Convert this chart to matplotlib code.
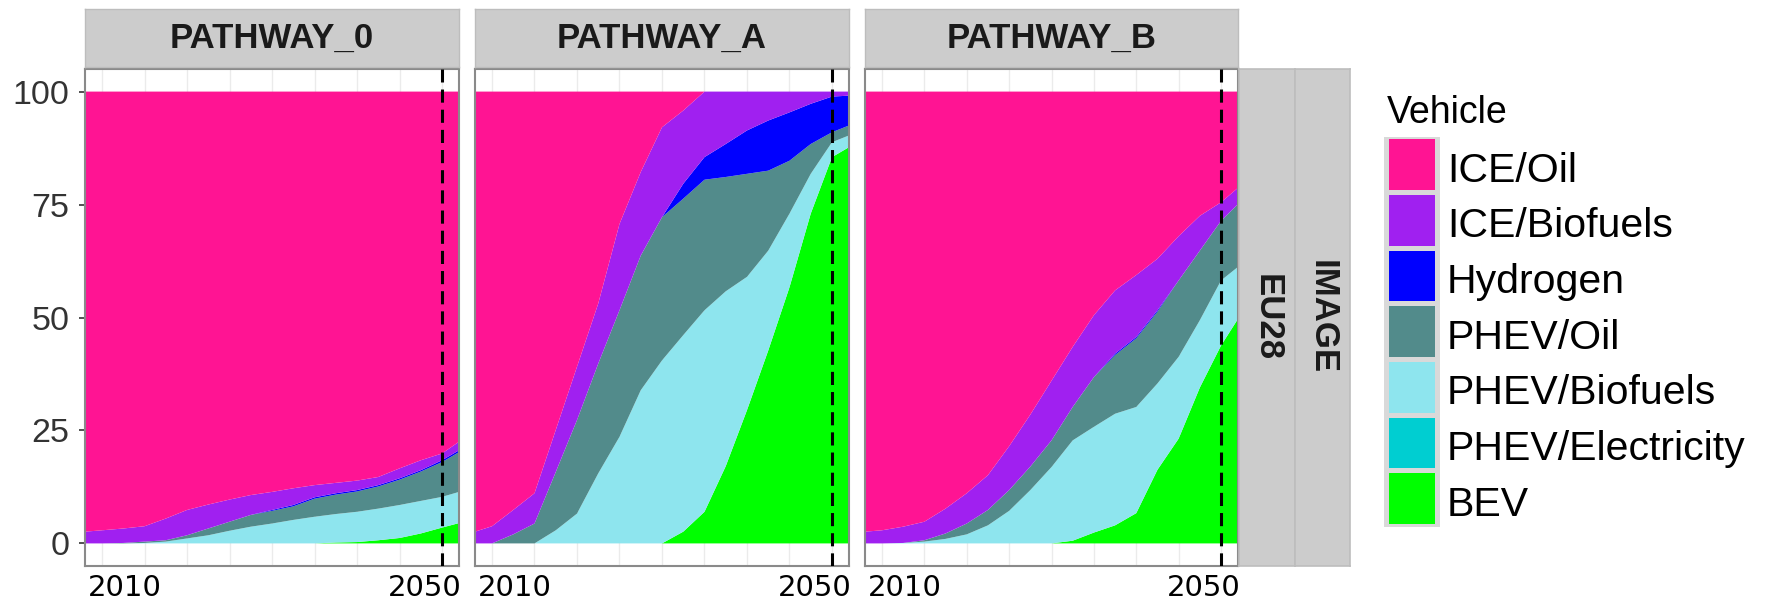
import matplotlib
matplotlib.use("Agg")
import matplotlib.pyplot as plt
from matplotlib.patches import Rectangle

# ---------------- data ----------------
years = [2008, 2010, 2012.5, 2015, 2017.5, 2020, 2022.5, 2025, 2027.5, 2030,
         2032.5, 2035, 2037.5, 2040, 2042.5, 2045, 2047.5, 2050, 2052]

vehicles = ["ICE/Oil", "ICE/Biofuels", "Hydrogen", "PHEV/Oil",
            "PHEV/Biofuels", "PHEV/Electricity", "BEV"]
vehicle_colors = ["#FF1493", "#A020F0", "#0000FF", "#528B8B",
                  "#8EE5EE", "#00CED1", "#00FF00"]

pathways = ["PATHWAY_0", "PATHWAY_A", "PATHWAY_B"]
row_labels = ["EU28", "IMAGE"]

# PATHWAY_0 (share, %)
p0_ice_oil = [97.4, 97.1, 96.7, 96.2, 94.5, 92.6, 91.4, 90.3, 89.3, 88.6, 87.8, 87.1, 86.6, 86.1, 85.3, 83.4, 81.6, 80.1, 77.5]
p0_ice_bio = [2.6, 2.9, 3.2, 3.4, 4.8, 5.6, 5.3, 4.9, 4.4, 4.0, 3.7, 2.7, 2.3, 2.1, 1.8, 2.2, 2.2, 1.5, 1.9]
p0_hydrogen = [0, 0, 0, 0, 0, 0, 0, 0, 0, 0.2, 0.3, 0.3, 0.3, 0.3, 0.3, 0.3, 0.3, 0.4, 0.4]
p0_phev_oil = [0, 0, 0.1, 0.3, 0.3, 0.7, 1.5, 2.0, 2.6, 2.8, 3.0, 4.0, 4.3, 4.5, 4.9, 5.6, 6.5, 7.7, 8.8]
p0_phev_bio = [0, 0, 0, 0.1, 0.4, 1.1, 1.8, 2.8, 3.7, 4.4, 5.2, 5.9, 6.3, 6.7, 7.0, 7.3, 7.2, 6.8, 6.9]
p0_phev_ele = [0] * 19
p0_bev = [0, 0, 0, 0, 0, 0, 0, 0, 0, 0, 0, 0, 0.2, 0.3, 0.7, 1.2, 2.2, 3.5, 4.5]

# PATHWAY_A
pa_ice_oil = [97.4, 96.2, 92.6, 88.9, 74.9, 60.9, 46.9, 29.3, 17.8, 7.9, 4.2, 0, 0, 0, 0, 0, 0, 0, 0]
pa_ice_bio = [2.6, 3.8, 5.4, 6.7, 9.3, 11.8, 13.3, 19.1, 18.5, 19.9, 16.2, 14.5, 11.6, 8.6, 6.4, 4.6, 2.7, 1.1, 0.9]
pa_hydrogen = [0, 0, 0, 0, 0, 0, 0, 0, 0, 0, 3.3, 5.0, 7.3, 9.6, 11.1, 10.7, 8.9, 7.9, 6.6]
pa_phev_oil = [0, 0, 2.0, 4.4, 12.9, 20.7, 24.3, 28.0, 29.8, 31.7, 30.2, 28.9, 25.3, 22.8, 17.7, 11.7, 6.6, 2.2, 2.2]
pa_phev_bio = [0, 0, 0, 0, 2.9, 6.6, 15.5, 23.6, 33.9, 40.5, 43.5, 44.6, 38.7, 29.5, 22.1, 16.3, 8.8, 3.3, 2.6]
pa_phev_ele = [0] * 19
pa_bev = [0, 0, 0, 0, 0, 0, 0, 0, 0, 0, 2.6, 7.0, 17.1, 29.5, 42.7, 56.7, 73.0, 85.5, 87.7]

# PATHWAY_B
pb_ice_oil = [97.4, 97.1, 96.3, 95.2, 92.3, 88.9, 84.9, 78.5, 71.5, 64.0, 56.5, 49.5, 44.0, 40.6, 37.0, 32.0, 27.5, 24.5, 21.3]
pb_ice_bio = [2.6, 2.9, 3.6, 4.1, 5.5, 6.7, 7.7, 9.7, 11.5, 13.2, 13.3, 13.7, 14.0, 13.7, 11.4, 9.8, 7.7, 4.1, 3.6]
pb_hydrogen = [0, 0, 0, 0, 0, 0, 0, 0, 0, 0, 0, 0, 0.3, 0.3, 0.3, 0, 0, 0, 0]
pb_phev_oil = [0, 0, 0, 0.3, 1.2, 2.4, 3.4, 4.6, 5.2, 5.9, 7.4, 11.0, 13.0, 15.2, 15.9, 16.9, 15.4, 13.2, 13.9]
pb_phev_bio = [0, 0, 0.1, 0.4, 1.0, 2.0, 4.0, 7.2, 11.8, 16.9, 22.2, 23.4, 24.7, 23.5, 19.1, 18.1, 14.9, 14.4, 11.5]
pb_phev_ele = [0] * 19
pb_bev = [0, 0, 0, 0, 0, 0, 0, 0, 0, 0, 0.6, 2.4, 4.0, 6.7, 16.3, 23.2, 34.5, 43.8, 49.7]

y_ticks = [0, 25, 50, 75, 100]
x_tick_labels = ["2010", "2050"]
ref_year = 2050
grid_years = [2010, 2015, 2020, 2025, 2030, 2035, 2040, 2045, 2050]

panel_series = [
    [p0_ice_oil, p0_ice_bio, p0_hydrogen, p0_phev_oil, p0_phev_bio, p0_phev_ele, p0_bev],
    [pa_ice_oil, pa_ice_bio, pa_hydrogen, pa_phev_oil, pa_phev_bio, pa_phev_ele, pa_bev],
    [pb_ice_oil, pb_ice_bio, pb_hydrogen, pb_phev_oil, pb_phev_bio, pb_phev_ele, pb_bev],
]

# ---------------- layout ----------------
W, H = 1775, 603
fig = plt.figure(figsize=(W / 100, H / 100), dpi=100)


def fx(px):
    return px / W


def fyb(py):
    return 1 - py / H


panel_x = [(85, 459), (475, 849), (865, 1238)]
ptop, pbot = 69, 566
strip_top, strip_bot = 9, 67
strip_col = "#CCCCCC"
strip_edge = "#BDBDBD"
sans = ["Liberation Sans", "DejaVu Sans"]

for i, (x0, x1) in enumerate(panel_x):
    ax = fig.add_axes([fx(x0), fyb(pbot), fx(x1 - x0), (pbot - ptop) / H])
    series = panel_series[i]
    # stack bottom -> top : reverse of legend order
    ax.stackplot(years, *series[::-1], colors=vehicle_colors[::-1],
                 linewidth=0, zorder=2)
    ax.set_xlim(2008, 2052)
    ax.set_ylim(-5, 105)
    ax.set_axisbelow(True)
    ax.set_xticks(grid_years, minor=True)
    ax.grid(True, which="minor", axis="x", color="#EBEBEB", linewidth=1.0, zorder=0)
    ax.axvline(ref_year, color="black", linestyle=(0, (4.3, 2.3)), linewidth=2.2, zorder=3)
    ax.set_xticks([2012.7, 2048.0])
    ax.set_xticklabels(x_tick_labels, fontsize=21, family="DejaVu Sans", color="black")
    ax.tick_params(axis="x", which="both", length=0, pad=6)
    if i == 0:
        ax.set_yticks(y_ticks)
        ax.set_yticklabels([str(v) for v in y_ticks], fontsize=24.5, family=sans,
                           color="#333333")
        ax.tick_params(axis="y", length=4.3, width=1.2, color="#333333", pad=7)
    else:
        ax.set_yticks([])
    for sp in ax.spines.values():
        sp.set_color("#8A8A8A")
        sp.set_linewidth(1.5)

    sax = fig.add_axes([fx(x0), fyb(strip_bot), fx(x1 - x0), (strip_bot - strip_top) / H])
    sax.set_facecolor(strip_col)
    sax.set_xticks([])
    sax.set_yticks([])
    for sp in sax.spines.values():
        sp.set_color(strip_edge)
        sp.set_linewidth(1)
    sax.text(0.5, 0.5, pathways[i], ha="center", va="center", fontsize=25,
             fontweight="bold", family=sans, color="#1A1A1A", transform=sax.transAxes)

# right-hand facet strips
rs_x = [(1239, 1295), (1295, 1350)]
for j, (x0, x1) in enumerate(rs_x):
    rax = fig.add_axes([fx(x0), fyb(pbot), fx(x1 - x0), (pbot - ptop) / H])
    rax.set_facecolor(strip_col)
    rax.set_xticks([])
    rax.set_yticks([])
    for sp in rax.spines.values():
        sp.set_color(strip_edge)
        sp.set_linewidth(1.2)
    rax.text(0.5, 0.5, row_labels[j], ha="center", va="center", rotation=-90,
             fontsize=25, fontweight="bold", family=sans, color="#1A1A1A",
             transform=rax.transAxes)

# ---------------- legend ----------------
fig.text(fx(1387), fyb(123), "Vehicle", fontsize=27, family=sans, color="black",
         ha="left", va="baseline")
key_top0 = 136.7
pitch = 55.7
for k, (lab, col) in enumerate(zip(vehicles, vehicle_colors)):
    top = key_top0 + k * pitch
    fig.patches.append(Rectangle((fx(1384), fyb(top + pitch)), fx(56), pitch / H,
                                 transform=fig.transFigure, facecolor="#D9D9D9",
                                 edgecolor="none"))
    fig.patches.append(Rectangle((fx(1389), fyb(top + pitch - 2.5)), fx(46), (pitch - 5) / H,
                                 transform=fig.transFigure, facecolor=col,
                                 edgecolor="none"))
    fig.text(fx(1447), fyb(top + 45), lab, fontsize=29.5, family=sans, color="black",
             ha="left", va="baseline")

fig.savefig("out.png", dpi=100, facecolor="white")
